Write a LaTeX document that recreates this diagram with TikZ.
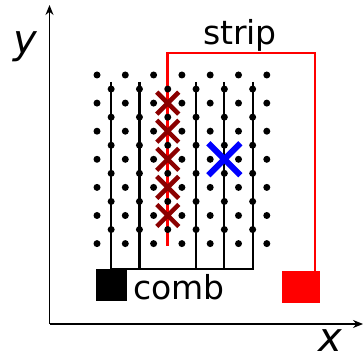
\documentclass[tikz,border=0pt]{standalone}
\usepackage{fontspec}
\setmainfont{DejaVu Sans}
\usetikzlibrary{arrows.meta,calc}
\definecolor{xred}{HTML}{8B0000}
\definecolor{pured}{HTML}{FF0000}
\definecolor{pureblue}{HTML}{0000FF}
\tikzset{
  gdot/.style={circle,fill=black,inner sep=0pt,minimum size=7pt},
  combline/.style={black,line width=2.2pt},
  stripline/.style={pured,line width=2.8pt},
  axisline/.style={black,line width=1.4pt,-{Stealth[length=10pt,width=8pt]}},
  lbl/.style={inner sep=0pt,font=\fontsize{33}{38}\selectfont},
  axlbl/.style={inner sep=0pt,font=\fontsize{40}{46}\selectfont\itshape},
  pad/.style={minimum width=#1,minimum height=32pt,inner sep=0pt,outer sep=0pt},
}
\begin{document}
\begin{tikzpicture}[x=1pt,y=-1pt]
\useasboundingbox (0,0) rectangle (364,355);
% axes
\coordinate (O) at (49.5,324);
\coordinate (ytip) at (49.5,5);
\coordinate (xtip) at (363,324);
\draw[axisline] (O) -- (ytip);
\draw[axisline] (O) -- (xtip);
\node[axlbl,anchor=base] (ylab) at (25,54) {y};
\node[axlbl,anchor=base] (xlab) at (330,351) {x};
% squares
\node[pad=31pt,fill=black,anchor=north west] (combpad) at (96,269) {};
\node[pad=38pt,fill=pured,anchor=north west] (strippad) at (282,271) {};
% comb
\foreach \i [count=\k] in {0,1,3,4,5} {
  \coordinate (ct\k) at ({97+28.3*(\i+0.5)},82);
  \coordinate (cb\k) at ({97+28.3*(\i+0.5)},269);
  \draw[combline] (ct\k) -- (cb\k);
}
\draw[combline] (cb1) -- (combpad.north);
\draw[combline,line cap=rect] (cb1) -- (cb5);
% strip
\coordinate (s1) at ({97+28.3*2.5},246);
\coordinate (s2) at ({97+28.3*2.5},53);
\coordinate (s3) at (315,53);
\draw[stripline] (s1) -- (s2) -- (s3) -- (strippad.north -| s3);
% dots
\foreach \i in {0,...,6} \foreach \j in {0,...,6}
  \node[gdot] (d\i\j) at ({97+28.3*\i},{75+28.1*\j}) {};
\foreach \i in {0,...,5} \foreach \j in {0,...,5}
  \node[gdot] (h\i\j) at ({97+28.3*(\i+0.5)},{75+28.1*(\j+0.5)}) {};
% crosses
\foreach \j in {1,...,5} {
  \coordinate (xc\j) at ({97+28.3*2.5},{75+28.1*\j});
  \draw[xred,line width=4.5pt] ($(xc\j)+(-11,-11)$) -- ($(xc\j)+(11,11)$)
       ($(xc\j)+(-11,11)$) -- ($(xc\j)+(11,-11)$);
}
\coordinate (bx) at ({97+28.3*4.5},{75+28.1*3});
\draw[pureblue,line width=6pt] ($(bx)+(-16,-16)$) -- ($(bx)+(16,16)$)
     ($(bx)+(-16,16)$) -- ($(bx)+(16,-16)$);
% labels
\node[lbl,anchor=base] (striplab) at (240,45) {strip};
\node[lbl,anchor=base west] (comblab) at (133,300) {comb};
\end{tikzpicture}
\end{document}
